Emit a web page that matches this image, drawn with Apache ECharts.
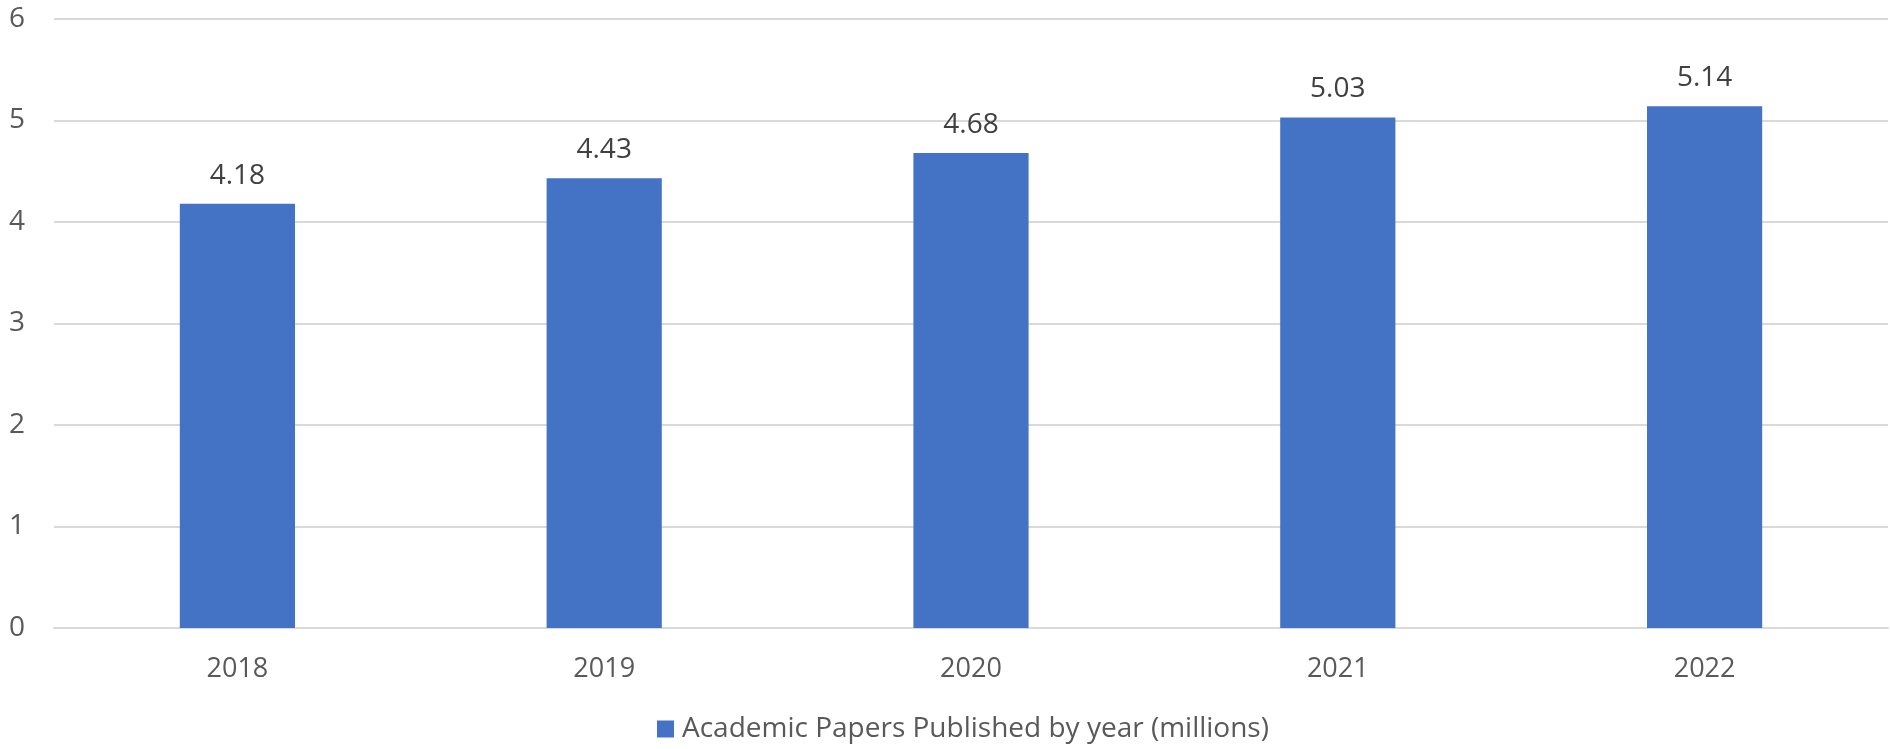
<!DOCTYPE html>
<html>
<head>
<meta charset="utf-8">
<script src="https://cdn.jsdelivr.net/npm/echarts@6/dist/echarts.min.js"></script>
<style>html,body{margin:0;padding:0;background:#fff}#c{width:1890px;height:749px}</style>
</head>
<body>
<div id="c"></div>
<script>
var categories = ['2018', '2019', '2020', '2021', '2022'];
var papers = [4.18, 4.43, 4.68, 5.03, 5.14];
var seriesName = 'Academic Papers Published by year (millions)';
var yTicks = [0, 1, 2, 3, 4, 5, 6];

var FONT = '"Open Sans", "Noto Sans", sans-serif';
var chart = echarts.init(document.getElementById('c'));
chart.setOption({
  animation: false,
  grid: { left: 54, right: 2, top: 19, bottom: 121, containLabel: false },
  legend: {
    bottom: 1,
    left: 652,
    itemWidth: 17, itemHeight: 17, itemGap: 10,
    icon: 'rect',
    textStyle: { fontFamily: FONT, fontSize: 28, color: '#595959', padding: [0, 0, 0, 3] },
    data: [seriesName]
  },
  xAxis: {
    type: 'category',
    data: categories,
    axisLine: { lineStyle: { color: '#d9d9d9', width: 2 } },
    axisTick: { show: false },
    axisLabel: { fontFamily: FONT, fontSize: 27, color: '#595959', margin: 28 }
  },
  yAxis: {
    type: 'value',
    min: yTicks[0], max: yTicks[yTicks.length - 1], interval: 1,
    axisLine: { show: false },
    axisTick: { show: false },
    splitLine: { lineStyle: { color: '#d9d9d9', width: 2 } },
    axisLabel: { fontFamily: FONT, fontSize: 28, color: '#595959', margin: 29 }
  },
  series: [{
    name: seriesName,
    type: 'bar',
    data: papers,
    barWidth: '31.4%',
    itemStyle: { color: '#4472C4' },
    label: {
      show: true, position: 'top', distance: 14,
      fontFamily: FONT, fontSize: 28, color: '#404040',
      formatter: function (p) { return p.value.toFixed(2); }
    }
  }]
});
</script>
</body>
</html>
